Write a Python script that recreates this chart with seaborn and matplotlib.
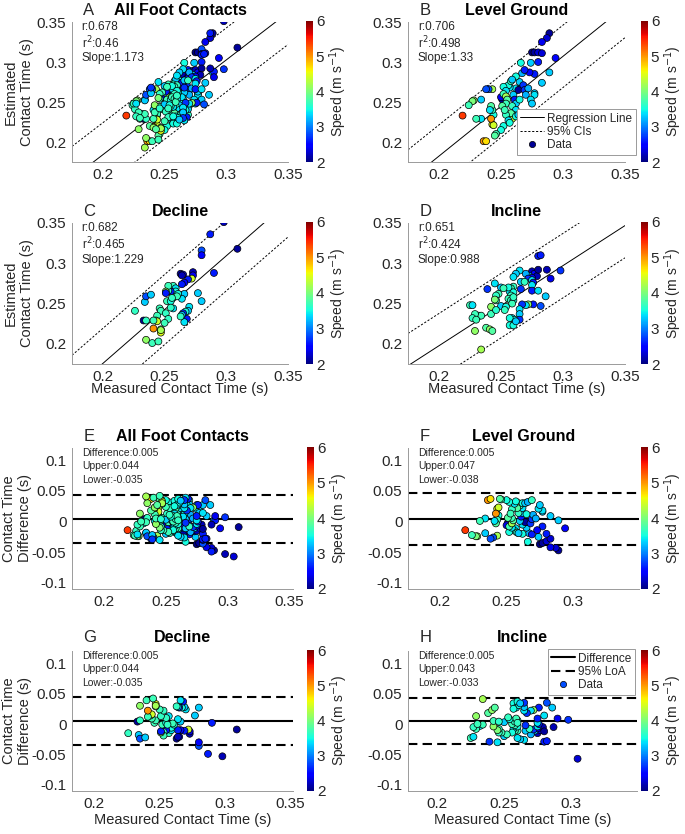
import numpy as np
import pandas as pd
import matplotlib
matplotlib.use("Agg")
import matplotlib.pyplot as plt
from matplotlib.lines import Line2D
from matplotlib.cm import ScalarMappable
from matplotlib.colors import Normalize
import seaborn as sns

# ---- data ----
# Level ground: measured, estimated contact time (s) and running speed (m/s)
level_measured = [0.289, 0.287, 0.283, 0.294, 0.275, 0.277, 0.280, 0.283, 0.274, 0.280,
                  0.277, 0.273, 0.267, 0.266, 0.289, 0.283, 0.277, 0.277, 0.270, 0.265,
                  0.262, 0.262, 0.257, 0.256, 0.258, 0.266, 0.264, 0.268, 0.269, 0.270,
                  0.272, 0.252, 0.251, 0.250, 0.252, 0.254, 0.252, 0.254, 0.255, 0.254,
                  0.251, 0.260, 0.261, 0.262, 0.259, 0.262, 0.265, 0.260, 0.259, 0.258,
                  0.262, 0.264, 0.266, 0.254, 0.253, 0.256, 0.257, 0.252, 0.250, 0.246,
                  0.245, 0.244, 0.243, 0.242, 0.243, 0.244, 0.242, 0.241, 0.243, 0.240,
                  0.238, 0.234, 0.234, 0.230, 0.228, 0.227, 0.224, 0.219, 0.236, 0.238,
                  0.269, 0.274, 0.275, 0.259, 0.269]
level_estimated = [0.336, 0.330, 0.325, 0.305, 0.312, 0.312, 0.312, 0.311, 0.299, 0.300,
                   0.285, 0.287, 0.286, 0.299, 0.287, 0.274, 0.261, 0.259, 0.265, 0.275,
                   0.267, 0.282, 0.268, 0.271, 0.276, 0.267, 0.265, 0.271, 0.265, 0.259,
                   0.267, 0.257, 0.253, 0.256, 0.269, 0.264, 0.260, 0.257, 0.253, 0.248,
                   0.245, 0.259, 0.253, 0.248, 0.245, 0.240, 0.253, 0.234, 0.229, 0.236,
                   0.232, 0.234, 0.234, 0.234, 0.240, 0.227, 0.224, 0.220, 0.215, 0.210,
                   0.208, 0.234, 0.240, 0.245, 0.222, 0.221, 0.229, 0.240, 0.266, 0.266,
                   0.266, 0.253, 0.229, 0.229, 0.252, 0.251, 0.246, 0.233, 0.201, 0.201,
                   0.234, 0.253, 0.248, 0.278, 0.290]
level_speed = [2.1, 2.3, 2.4, 2.5, 2.0, 2.1, 2.3, 2.3, 3.3, 2.6,
               2.6, 2.5, 3.2, 3.5, 3.3, 3.3, 3.3, 3.4, 2.6, 3.3,
               3.4, 3.5, 3.4, 3.5, 3.65, 2.8, 2.1, 2.7, 2.7, 3.2,
               3.2, 2.0, 2.1, 2.4, 3.5, 3.4, 3.7, 4.2, 3.8, 3.7,
               3.8, 3.3, 2.6, 3.3, 3.65, 3.4, 3.5, 3.7, 4.3, 3.8,
               3.5, 3.3, 3.2, 3.65, 3.7, 3.4, 3.5, 3.5, 3.5, 3.7,
               3.8, 3.5, 3.7, 3.8, 4.5, 4.4, 5.0, 3.4, 4.2, 2.8,
               2.8, 3.3, 3.4, 3.7, 4.1, 4.0, 3.7, 5.4, 5.0, 4.7,
               3.65, 3.4, 3.3, 3.3, 2.6]

# Decline
decline_measured = [0.287, 0.280, 0.280, 0.309, 0.290, 0.273, 0.273, 0.272, 0.269, 0.266,
                    0.264, 0.263, 0.265, 0.264, 0.277, 0.280, 0.270, 0.269, 0.267, 0.268,
                    0.265, 0.264, 0.266, 0.263, 0.265, 0.266, 0.264, 0.257, 0.259, 0.259,
                    0.261, 0.260, 0.255, 0.253, 0.253, 0.251, 0.251, 0.252, 0.255, 0.256,
                    0.257, 0.255, 0.246, 0.247, 0.251, 0.253, 0.250, 0.244, 0.243, 0.244,
                    0.241, 0.241, 0.247, 0.247, 0.247, 0.235, 0.240, 0.245, 0.226, 0.233,
                    0.235, 0.234, 0.235, 0.239, 0.298]
decline_estimated = [0.336, 0.316, 0.310, 0.318, 0.288, 0.289, 0.285, 0.281, 0.280, 0.276,
                     0.274, 0.287, 0.286, 0.285, 0.263, 0.253, 0.246, 0.241, 0.240, 0.231,
                     0.238, 0.236, 0.227, 0.234, 0.261, 0.262, 0.256, 0.272, 0.269, 0.265,
                     0.262, 0.259, 0.265, 0.266, 0.272, 0.265, 0.263, 0.253, 0.253, 0.257,
                     0.244, 0.245, 0.244, 0.241, 0.238, 0.231, 0.226, 0.235, 0.229, 0.228,
                     0.229, 0.219, 0.218, 0.214, 0.217, 0.205, 0.201, 0.203, 0.241, 0.229,
                     0.229, 0.252, 0.259, 0.261, 0.351]
decline_speed = [2.6, 2.8, 2.5, 2.1, 2.6, 2.2, 2.4, 4.4, 2.6, 2.5,
                 2.6, 2.1, 2.4, 2.2, 3.3, 3.3, 3.4, 3.3, 3.5, 2.6,
                 2.7, 3.3, 3.4, 3.65, 3.4, 3.3, 3.4, 3.65, 3.4, 3.5,
                 3.5, 3.7, 2.6, 3.65, 3.7, 4.1, 2.6, 3.7, 3.5, 3.65,
                 3.4, 3.65, 3.7, 3.7, 3.65, 3.65, 3.7, 3.7, 3.8, 4.4,
                 3.7, 5.0, 3.8, 4.5, 4.2, 4.1, 3.7, 3.7, 3.65, 2.1,
                 3.65, 3.3, 2.8, 3.3, 2.2]

# Incline
incline_measured = [0.280, 0.282, 0.298, 0.290, 0.287, 0.275, 0.277, 0.279, 0.273, 0.270,
                    0.280, 0.275, 0.272, 0.266, 0.269, 0.275, 0.276, 0.275, 0.265, 0.262,
                    0.260, 0.266, 0.275, 0.280, 0.286, 0.282, 0.276, 0.272, 0.270, 0.267,
                    0.265, 0.265, 0.260, 0.258, 0.257, 0.260, 0.258, 0.256, 0.256, 0.258,
                    0.260, 0.259, 0.260, 0.250, 0.252, 0.248, 0.250, 0.254, 0.245, 0.246,
                    0.246, 0.245, 0.253, 0.239, 0.242, 0.242, 0.246, 0.232, 0.234, 0.229,
                    0.227, 0.230, 0.225, 0.227, 0.229, 0.238, 0.241, 0.243, 0.234, 0.257,
                    0.259, 0.261, 0.260, 0.257, 0.265, 0.262, 0.305]
incline_estimated = [0.309, 0.310, 0.291, 0.281, 0.292, 0.290, 0.287, 0.284, 0.284, 0.287,
                     0.292, 0.282, 0.281, 0.277, 0.277, 0.279, 0.276, 0.273, 0.291, 0.287,
                     0.283, 0.268, 0.266, 0.266, 0.259, 0.247, 0.249, 0.249, 0.248, 0.249,
                     0.243, 0.237, 0.271, 0.269, 0.265, 0.264, 0.260, 0.270, 0.256, 0.254,
                     0.254, 0.250, 0.258, 0.270, 0.269, 0.262, 0.247, 0.246, 0.275, 0.260,
                     0.254, 0.255, 0.242, 0.268, 0.246, 0.237, 0.242, 0.235, 0.235, 0.237,
                     0.232, 0.230, 0.248, 0.248, 0.216, 0.220, 0.218, 0.216, 0.193, 0.223,
                     0.232, 0.230, 0.223, 0.232, 0.230, 0.228, 0.362]
incline_speed = [2.6, 2.6, 2.7, 2.4, 2.2, 2.2, 2.5, 2.2, 3.3, 3.2,
                 2.1, 2.5, 2.7, 3.3, 3.65, 3.4, 2.6, 3.4, 3.4, 3.3,
                 3.4, 2.7, 2.6, 3.4, 3.3, 2.8, 2.6, 4.1, 3.4, 2.7,
                 3.4, 3.3, 3.65, 3.7, 3.4, 3.5, 3.65, 3.5, 3.7, 3.65,
                 3.5, 3.7, 3.65, 3.3, 3.7, 3.7, 3.3, 3.5, 3.4, 3.65,
                 3.65, 4.0, 3.65, 2.7, 4.1, 3.7, 3.6, 3.4, 3.7, 3.7,
                 3.65, 3.7, 3.7, 3.4, 4.1, 3.8, 4.1, 3.8, 4.2, 3.5,
                 3.4, 3.5, 3.5, 3.5, 2.7, 3.3, 2.3]

# regression lines as drawn: slope, intercept, half-width of the 95% band
fit_all = (1.185, -0.0529, 0.040)
fit_level = (1.247, -0.067, 0.039)
fit_decline = (1.336, -0.0915, 0.0435)
fit_incline = (0.994, -0.0011, 0.040)

# Bland-Altman: mean difference, upper and lower limits of agreement
ba_all = (0.005, 0.044, -0.035)
ba_level = (0.005, 0.047, -0.038)
ba_decline = (0.005, 0.044, -0.035)
ba_incline = (0.005, 0.043, -0.033)

stats_all = ["r:0.678", "r$^2$:0.46", "Slope:1.173"]
stats_level = ["r:0.706", "r$^2$:0.498", "Slope:1.33"]
stats_decline = ["r:0.682", "r$^2$:0.465", "Slope:1.229"]
stats_incline = ["r:0.651", "r$^2$:0.424", "Slope:0.988"]

# ---- style ----
sns.set_style("white")
plt.rcParams["font.family"] = ["Liberation Sans", "DejaVu Sans"]
plt.rcParams["axes.unicode_minus"] = False
TXT = "#262626"
SPINE = "#9a9a9a"
jet = plt.get_cmap("jet")


def make_df(meas, est, spd):
    df = pd.DataFrame({"measured": meas, "estimated": est, "speed": spd})
    df["difference"] = df["measured"] - df["estimated"]
    return df


level = make_df(level_measured, level_estimated, level_speed)
decline = make_df(decline_measured, decline_estimated, decline_speed)
incline = make_df(incline_measured, incline_estimated, incline_speed)
all_contacts = pd.concat([level, decline, incline], ignore_index=True)

W, H = 685, 834
fig = plt.figure(figsize=(W / 100, H / 100), dpi=100)


def box(l, t, r, b):
    return [l / W, 1 - b / H, (r - l) / W, (b - t) / H]


def style_axes(ax):
    sns.despine(ax=ax)
    for s in ["left", "bottom"]:
        ax.spines[s].set_color(SPINE)
        ax.spines[s].set_linewidth(0.7)
    ax.tick_params(direction="in", length=3, width=0.6, color=SPINE,
                   labelsize=11, labelcolor=TXT, pad=4)


def add_cbar(cb_box):
    cax = fig.add_axes(box(*cb_box))
    sm = ScalarMappable(norm=Normalize(2, 6), cmap=jet)
    cb = fig.colorbar(sm, cax=cax)
    cb.set_ticks([2, 3, 4, 5, 6])
    cb.outline.set_visible(False)
    cb.ax.tick_params(length=0, labelsize=11, labelcolor=TXT, pad=2)
    cb.set_label("Speed (m s$^{-1}$)", fontsize=10, color=TXT, labelpad=2)


def header(ax, letter, title, y):
    ax.text(0.5, y, title, transform=ax.transAxes, ha="center", va="center",
            fontsize=11.5, fontweight="bold", color="black")
    ax.text(0.052, y, letter, transform=ax.transAxes, ha="left", va="center",
            fontsize=12, color=TXT)


def scatter_panel(df, letter, title, fit, stats, ax_box, cb_box, ylab, xlab):
    ax = fig.add_axes(box(*ax_box))
    slope, icpt, band = fit
    xs = np.array([0.175, 0.35])
    ax.plot(xs, slope * xs + icpt, color="black", lw=0.7)
    ax.plot(xs, slope * xs + icpt + band, color="black", lw=0.7, ls=(0, (2.2, 1.8)))
    ax.plot(xs, slope * xs + icpt - band, color="black", lw=0.7, ls=(0, (2.2, 1.8)))
    sns.scatterplot(data=df, x="measured", y="estimated", hue="speed", palette=jet,
                    hue_norm=(2, 6), s=25, edgecolor="black", linewidth=0.5,
                    legend=False, ax=ax, zorder=3)
    ax.set_xlim(0.175, 0.35)
    ax.set_ylim(0.175, 0.35)
    ax.set_xticks([0.2, 0.25, 0.3, 0.35], ["0.2", "0.25", "0.3", "0.35"])
    ax.set_yticks([0.2, 0.25, 0.3, 0.35], ["0.2", "0.25", "0.3", "0.35"])
    style_axes(ax)
    for i, s in enumerate(stats):
        ax.text(0.045, 0.965 - i * 0.112, s, transform=ax.transAxes, ha="left",
                va="center", fontsize=8.5, color=TXT)
    header(ax, letter, title, 1.085)
    ax.set_ylabel("Estimated\nContact Time (s)" if ylab else "", fontsize=10.5, color=TXT)
    ax.yaxis.set_label_coords(-0.175, 0.5)
    ax.set_xlabel("Measured Contact Time (s)" if xlab else "", fontsize=10.5, color=TXT)
    ax.xaxis.set_label_coords(0.5, -0.13)
    add_cbar(cb_box)
    return ax


def ba_panel(df, letter, title, ba, xlim, xticks, ax_box, cb_box, ylab, xlab, head_y):
    ax = fig.add_axes(box(*ax_box))
    mean_d, upper, lower = ba
    ax.axhline(mean_d, color="black", lw=1.5)
    ax.axhline(upper, color="black", lw=1.5, ls=(0, (4.5, 2.5)))
    ax.axhline(lower, color="black", lw=1.5, ls=(0, (4.5, 2.5)))
    sns.scatterplot(data=df, x="measured", y="difference", hue="speed", palette=jet,
                    hue_norm=(2, 6), s=25, edgecolor="black", linewidth=0.5,
                    legend=False, ax=ax, zorder=3)
    ax.set_xlim(*xlim)
    ax.set_ylim(-0.11, 0.12)
    ax.set_xticks(xticks, [f"{t:g}" for t in xticks])
    ax.set_yticks([-0.1, -0.05, 0, 0.05, 0.1], ["-0.1", "-0.05", "0", "0.05", "0.1"])
    style_axes(ax)
    texts = [f"Difference:{mean_d:.3f}", f"Upper:{upper:.3f}", f"Lower:{lower:.3f}"]
    for i, s in enumerate(texts):
        ax.text(0.045, 0.965 - i * 0.095, s, transform=ax.transAxes, ha="left",
                va="center", fontsize=7.5, color=TXT)
    header(ax, letter, title, head_y)
    ax.set_ylabel("Contact Time\nDifference (s)" if ylab else "", fontsize=10.5, color=TXT)
    ax.yaxis.set_label_coords(-0.18, 0.5)
    ax.set_xlabel("Measured Contact Time (s)" if xlab else "", fontsize=10.5, color=TXT)
    ax.xaxis.set_label_coords(0.5, -0.155)
    add_cbar(cb_box)
    return ax


scatter_panel(all_contacts, "A", "All Foot Contacts", fit_all, stats_all,
              (72, 22, 288, 162), (306, 21, 313, 162), True, False)
axB = scatter_panel(level, "B", "Level Ground", fit_level, stats_level,
                    (408, 22, 625, 162), (641, 21, 648, 162), False, False)
scatter_panel(decline, "C", "Decline", fit_decline, stats_decline,
              (72, 223, 288, 364), (306, 222, 313, 364), True, True)
scatter_panel(incline, "D", "Incline", fit_incline, stats_incline,
              (408, 223, 625, 364), (641, 222, 648, 364), False, True)

ba_panel(all_contacts, "E", "All Foot Contacts", ba_all, (0.174, 0.353),
         [0.2, 0.25, 0.3, 0.35], (72, 448, 293, 589), (307, 447, 314, 589), True, False, 1.08)
ba_panel(level, "F", "Level Ground", ba_level, (0.176, 0.3495),
         [0.2, 0.25, 0.3], (408, 448, 639, 589), (641, 447, 648, 589), False, False, 1.08)
ba_panel(decline, "G", "Decline", ba_decline, (0.183, 0.352),
         [0.2, 0.25, 0.3, 0.35], (72, 651, 293, 791), (307, 650, 314, 791), True, True, 1.1)
axH = ba_panel(incline, "H", "Incline", ba_incline, (0.178, 0.3495),
               [0.2, 0.25, 0.3], (408, 651, 637, 791), (641, 650, 648, 791), False, True, 1.1)

# legends
leg_kw = dict(fontsize=8.5, frameon=True, fancybox=False, edgecolor="#9a9a9a",
              borderpad=0.3, labelspacing=0.12, handlelength=2.0, handletextpad=0.3,
              borderaxespad=0, bbox_transform=fig.transFigure, framealpha=1)
hB = [Line2D([], [], color="black", lw=0.7),
      Line2D([], [], color="black", lw=0.7, ls=(0, (2.2, 1.8))),
      Line2D([], [], ls="", marker="o", markersize=4.5, markerfacecolor=jet(0.02),
             markeredgecolor="black", markeredgewidth=0.5)]
legB = axB.legend(hB, ["Regression Line", "95% CIs", "Data"], loc="lower right",
                  bbox_to_anchor=(636 / W, 1 - 155 / H), **leg_kw)
legB.get_frame().set_linewidth(0.7)

hH = [Line2D([], [], color="black", lw=1.5),
      Line2D([], [], color="black", lw=1.5, ls=(0, (4.5, 2.5))),
      Line2D([], [], ls="", marker="o", markersize=4.5, markerfacecolor=jet(0.2),
             markeredgecolor="black", markeredgewidth=0.5)]
legH = axH.legend(hH, ["Difference", "95% LoA", "Data"], loc="upper right",
                  bbox_to_anchor=(635 / W, 1 - 649 / H), **leg_kw)
legH.get_frame().set_linewidth(0.7)

fig.savefig("out.png", dpi=100)
